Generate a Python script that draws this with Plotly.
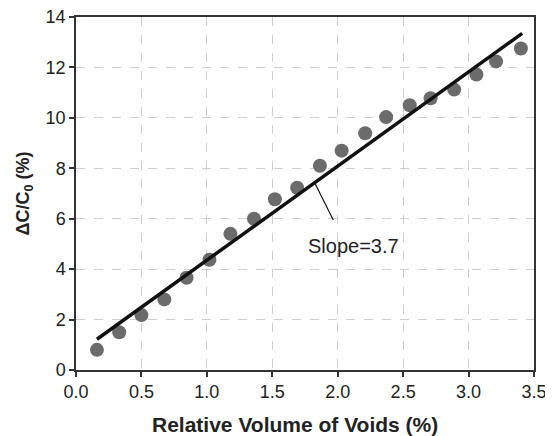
import plotly.graph_objects as go

void_x = [0.16, 0.33, 0.50, 0.675, 0.845, 1.02, 1.18, 1.36, 1.52, 1.69, 1.864, 2.03, 2.21, 2.37, 2.55, 2.71, 2.89, 3.06, 3.21, 3.40]
dc_y = [0.80, 1.50, 2.18, 2.80, 3.66, 4.37, 5.40, 6.00, 6.77, 7.23, 8.10, 8.70, 9.39, 10.03, 10.50, 10.78, 11.12, 11.72, 12.24, 12.75]

fit_x = [0.16, 3.41]
fit_y = [1.22, 13.35]

leader_x = [1.826, 1.966]
leader_y = [7.41, 5.95]

slope_label = "Slope=3.7"
label_pos = (2.12, 4.9)

x_title = "<b>Relative Volume of Voids (%)</b>"
y_title = "<b>ΔC/C<sub>0</sub> (%)</b>"

x_ticks = [0.0, 0.5, 1.0, 1.5, 2.0, 2.5, 3.0, 3.5]
y_ticks = [0, 2, 4, 6, 8, 10, 12, 14]

FONT = "Liberation Sans, Arial, sans-serif"

fig = go.Figure()
fig.add_trace(go.Scatter(x=void_x, y=dc_y, mode="markers",
                         marker=dict(size=14, color="#6b6b6b"), showlegend=False))
fig.add_trace(go.Scatter(x=fit_x, y=fit_y, mode="lines",
                         line=dict(color="#111111", width=3.5), showlegend=False))
fig.add_trace(go.Scatter(x=leader_x, y=leader_y, mode="lines",
                         line=dict(color="#111111", width=1.2), showlegend=False))

fig.add_annotation(x=label_pos[0], y=label_pos[1], text=slope_label, showarrow=False,
                   font=dict(family=FONT, size=20, color="#222222"),
                   xanchor="center", yanchor="middle")

# x-axis title (placed slightly left of centre, as in the reference)
fig.add_annotation(x=0.478, y=-0.153, xref="paper", yref="paper", text=x_title,
                   showarrow=False, xanchor="center", yanchor="middle",
                   font=dict(family=FONT, size=21, color="#222222"))

axis_common = dict(showline=True, linecolor="#333333", linewidth=1.5, mirror=True,
                   ticks="outside", ticklen=5, tickcolor="#333333", tickwidth=1.5,
                   showgrid=True, gridcolor="#cfcfcf", griddash="dash", gridwidth=1,
                   zeroline=False, automargin=False, ticklabeloverflow="allow",
                   tickfont=dict(family=FONT, size=18, color="#222222"))

fig.update_xaxes(range=[0, 3.5], tickvals=x_ticks, ticktext=[f"{v:.1f}" for v in x_ticks],
                 **axis_common)
fig.update_yaxes(range=[0, 14], tickvals=y_ticks, ticktext=[str(v) for v in y_ticks],
                 title=dict(text=y_title,
                            font=dict(family=FONT, size=18, color="#222222"), standoff=11),
                 **axis_common)

# the page body adds an 8px offset, so the figure is sized to fit the window
fig.update_layout(width=545, height=428, margin=dict(l=68, r=19, t=9, b=66),
                  plot_bgcolor="white", paper_bgcolor="white")

fig.write_html("out.html")
